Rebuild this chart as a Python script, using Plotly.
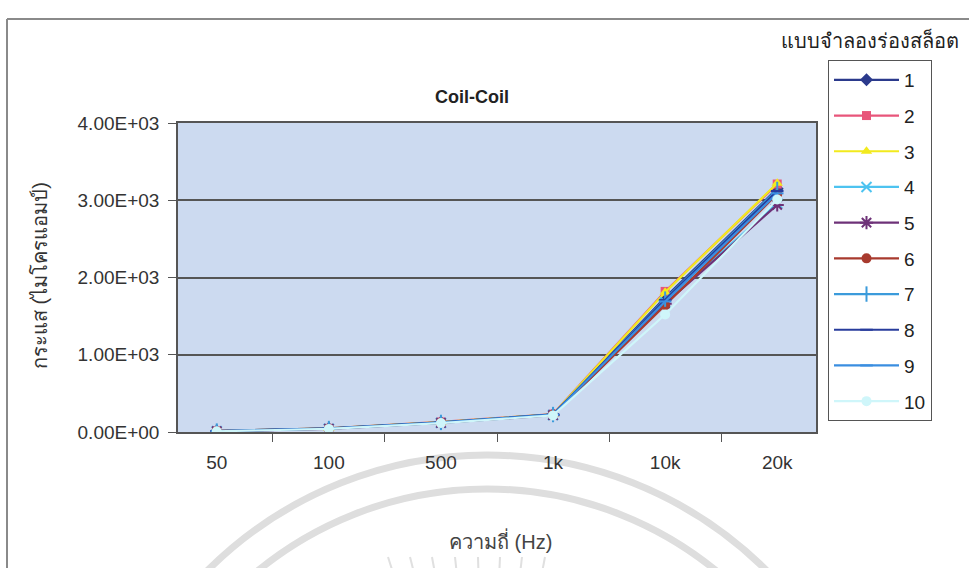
import math
import plotly.graph_objects as go

# Frequency categories (x axis)
freqs = ["50", "100", "500", "1k", "10k", "20k"]

# Current readings (microamps) for each slot model
s1 = [12, 45, 125, 225, 1740, 3150]
s2 = [14, 48, 130, 232, 1820, 3210]
s3 = [13, 47, 128, 230, 1810, 3220]
s4 = [10, 42, 118, 220, 1680, 2960]
s5 = [10, 41, 117, 218, 1660, 2940]
s6 = [11, 43, 120, 222, 1640, 3080]
s7 = [12, 45, 124, 226, 1720, 3140]
s8 = [12, 46, 125, 227, 1710, 3120]
s9 = [11, 44, 122, 224, 1690, 3090]
s10 = [9, 40, 115, 215, 1520, 3010]

series_names = ["1", "2", "3", "4", "5", "6", "7", "8", "9", "10"]
series_values = [s1, s2, s3, s4, s5, s6, s7, s8, s9, s10]

# Y ticks in Excel scientific style
y_tickvals = [0, 1000, 2000, 3000, 4000]
y_ticktext = ["0.00E+00", "1.00E+03", "2.00E+03", "3.00E+03", "4.00E+03"]

styles = [
    dict(color="#2B3A8C", symbol="diamond", size=10),
    dict(color="#E8557A", symbol="square", size=9),
    dict(color="#F2EA1E", symbol="triangle-up", size=10),
    dict(color="#4DC3F0", symbol="x-thin-open", size=10),
    dict(color="#6E3278", symbol="asterisk-open", size=11),
    dict(color="#A83A2E", symbol="circle", size=10),
    dict(color="#3B9BDB", symbol="line-ns-open", size=11),
    dict(color="#283C9C", symbol="line-ew-open", size=9),
    dict(color="#3A8EE0", symbol="line-ew-open", size=9),
    dict(color="#CFF6FA", symbol="circle", size=10),
]

FONT = "Liberation Sans, Arial, DejaVu Sans, sans-serif"

fig = go.Figure()
for name, vals, st in zip(series_names, series_values, styles):
    open_sym = st["symbol"].endswith("open")
    fig.add_trace(go.Scatter(
        x=freqs, y=vals, name=name, mode="lines+markers",
        legendgroup=name,
        line=dict(color=st["color"], width=2.2),
        marker=dict(
            symbol=st["symbol"], size=st["size"], color=st["color"],
            line=dict(color=st["color"], width=2 if open_sym else 0),
        ),
    ))

W, H = 969, 568
L, R, T, B = 178, 816, 123, 432


def px_x(px):
    return (px - L) / (R - L)


def px_y(py):
    return (B - py) / (B - T)


shapes = []
# chart frame (top and left edges)
shapes.append(dict(type="line", xref="paper", yref="paper",
                   x0=px_x(7), x1=px_x(975), y0=px_y(19), y1=px_y(19),
                   line=dict(color="#8a8a8a", width=2)))
shapes.append(dict(type="line", xref="paper", yref="paper",
                   x0=px_x(7), x1=px_x(7), y0=px_y(19), y1=px_y(575),
                   line=dict(color="#8a8a8a", width=2)))
# faint seal rings near the bottom
cx, cy = 487, 851
for r in (396, 362):
    shapes.append(dict(type="circle", xref="paper", yref="paper", layer="below",
                       x0=px_x(cx - r), x1=px_x(cx + r),
                       y0=px_y(cy - r), y1=px_y(cy + r),
                       line=dict(color="#dedede", width=7)))
for xr in (388, 410, 432, 455, 478, 500, 522, 545):
    ang = math.atan2(xr - cx, cy - 557)
    x2 = xr - 12 * math.sin(ang)
    shapes.append(dict(type="line", xref="paper", yref="paper", layer="below",
                       x0=px_x(xr), x1=px_x(x2), y0=px_y(557), y1=px_y(569),
                       line=dict(color="#e0e0e0", width=2)))


def label(text, px, py, size=17, color="#333333", angle=0):
    return dict(text=text, xref="paper", yref="paper",
                x=px_x(px), y=px_y(py), xanchor="center", yanchor="middle",
                showarrow=False, textangle=angle,
                font=dict(family=FONT, size=size, color=color))


fig.update_layout(
    width=W, height=H,
    margin=dict(l=L, r=W - R, t=T, b=H - B, pad=0),
    paper_bgcolor="white",
    plot_bgcolor="#CCDAF0",
    font=dict(family=FONT, size=19, color="#333333"),
    showlegend=True,
    legend=dict(
        x=px_x(828), y=px_y(60), xanchor="left", yanchor="top",
        bordercolor="#555555", borderwidth=1, bgcolor="white",
        font=dict(family=FONT, size=19, color="#222222"),
        tracegroupgap=8, itemwidth=65, maxheight=420,
    ),
    shapes=shapes,
    annotations=[
        label("<b>Coil-Coil</b>", 472, 97, size=18, color="#222222"),
        label("แบบจำลองร่องสล็อต", 870, 40, size=20, color="#222222"),
        label("กระแส (ไมโครแอมป์)", 40, 276, size=20, angle=-90),
        label("ความถี่ (Hz)", 500, 540, size=20, color="#444444"),
    ],
)

fig.update_xaxes(
    type="category", tickson="boundaries", ticks="outside", ticklen=8,
    tickcolor="#555555", showgrid=False, showline=True, linecolor="#555555",
    linewidth=1.5, mirror=True, ticklabelstandoff=12,
    tickfont=dict(size=19, color="#333333"),
)
fig.update_yaxes(
    range=[0, 4000], tickvals=y_tickvals, ticktext=y_ticktext,
    ticks="outside", ticklen=8, tickcolor="#555555",
    showgrid=True, gridcolor="#555555", gridwidth=1.5,
    showline=True, linecolor="#555555", linewidth=1.5, mirror=True,
    zeroline=False, ticklabelstandoff=5,
    tickfont=dict(size=19, color="#333333"),
)

fig.write_html("out.html")
